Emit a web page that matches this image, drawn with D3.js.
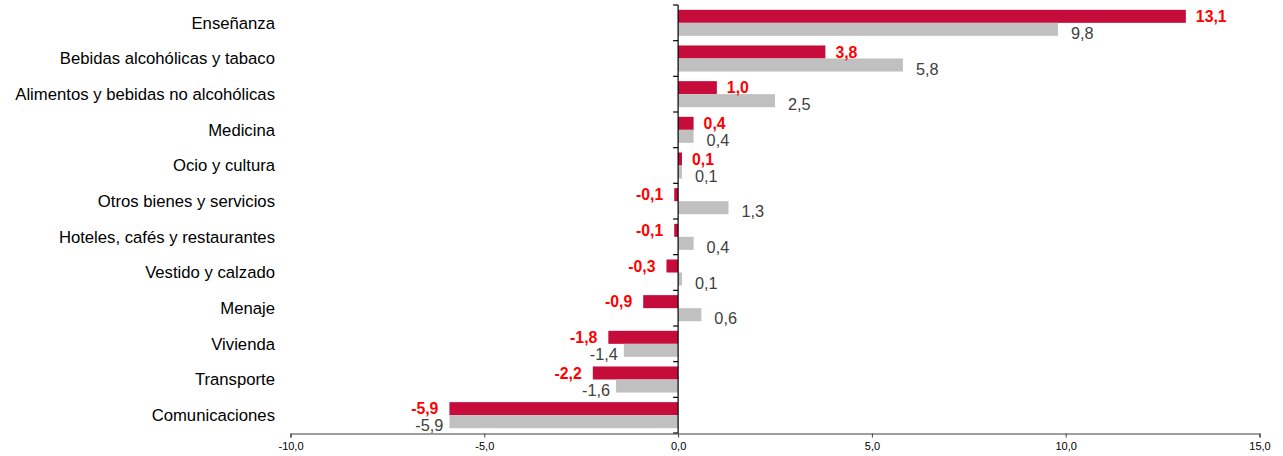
<!DOCTYPE html>
<html>
<head>
<meta charset="utf-8">
<script src="https://cdn.jsdelivr.net/npm/d3@7"></script>
<style>
  body { margin: 0; background: #fff; }
  text { font-family: "Liberation Sans", Arial, sans-serif; }
</style>
</head>
<body>
<svg id="chart" width="1283" height="456"></svg>
<script>
// categories top to bottom
var categories = ["Enseñanza", "Bebidas alcohólicas y tabaco", "Alimentos y bebidas no alcohólicas",
  "Medicina", "Ocio y cultura", "Otros bienes y servicios", "Hoteles, cafés y restaurantes",
  "Vestido y calzado", "Menaje", "Vivienda", "Transporte", "Comunicaciones"];
var current = [13.1, 3.8, 1.0, 0.4, 0.1, -0.1, -0.1, -0.3, -0.9, -1.8, -2.2, -5.9];
var previous = [9.8, 5.8, 2.5, 0.4, 0.1, 1.3, 0.4, 0.1, 0.6, -1.4, -1.6, -5.9];
var xTicks = [-10, -5, 0, 5, 10, 15];

var svg = d3.select("#chart");
var fmt = function(v) { return d3.format(".1f")(v).replace(".", ",").replace("−", "-"); };

var x = d3.scaleLinear().domain([-10, 15]).range([290.5, 1259.5]);
var y = d3.scaleBand().domain(categories).range([5, 433]).paddingInner(0).paddingOuter(0);
var sub = d3.scaleBand().domain(["cur", "prev"]).range([0, y.bandwidth()]).paddingOuter(0.37).paddingInner(0);

// bars
var rows = svg.append("g").selectAll("g.row")
    .data(categories)
  .enter().append("g")
    .attr("class", "row")
    .attr("transform", function(d) { return "translate(0," + y(d) + ")"; });

rows.append("rect")
    .attr("x", function(d, i) { return x(Math.min(0, current[i])); })
    .attr("y", sub("cur"))
    .attr("width", function(d, i) { return Math.abs(x(current[i]) - x(0)); })
    .attr("height", sub.bandwidth())
    .attr("fill", "#c60c3a");

rows.append("rect")
    .attr("x", function(d, i) { return x(Math.min(0, previous[i])); })
    .attr("y", sub("prev"))
    .attr("width", function(d, i) { return Math.abs(x(previous[i]) - x(0)); })
    .attr("height", sub.bandwidth())
    .attr("fill", "#c0c0c0");

// value labels
rows.append("text")
    .attr("x", function(d, i) { return current[i] >= 0 ? x(current[i]) + 10 : x(current[i]) - 11; })
    .attr("y", sub("cur") + sub.bandwidth() / 2)
    .attr("dy", "0.35em")
    .attr("text-anchor", function(d, i) { return current[i] >= 0 ? "start" : "end"; })
    .style("font-size", "15.8px")
    .style("font-weight", "bold")
    .attr("fill", "#ff0000")
    .text(function(d, i) { return fmt(current[i]); });

rows.append("text")
    .attr("x", function(d, i) { return previous[i] >= 0 ? x(previous[i]) + 13 : x(previous[i]) - 6; })
    .attr("y", sub("prev") + sub.bandwidth() / 2 + 4)
    .attr("dy", "0.35em")
    .attr("text-anchor", function(d, i) { return previous[i] >= 0 ? "start" : "end"; })
    .style("font-size", "16.3px")
    .attr("fill", "#404040")
    .text(function(d, i) { return fmt(previous[i]); });

// category labels
rows.append("text")
    .attr("x", 275)
    .attr("y", y.bandwidth() / 2)
    .attr("dy", "0.35em")
    .attr("text-anchor", "end")
    .style("font-size", "16.7px")
    .attr("fill", "#000")
    .text(function(d) { return d; });

// vertical axis at zero
var vAxis = svg.append("g").attr("transform", "translate(" + x(0) + ",0)");
vAxis.append("line").attr("y1", 5).attr("y2", 433).attr("stroke", "#000").attr("stroke-width", 1.2);
vAxis.selectAll("line.tick")
    .data(d3.range(categories.length + 1))
  .enter().append("line")
    .attr("class", "tick")
    .attr("x1", -5).attr("x2", 0)
    .attr("y1", function(i) { return 5 + i * y.step(); })
    .attr("y2", function(i) { return 5 + i * y.step(); })
    .attr("stroke", "#000").attr("stroke-width", 1.2);

// horizontal axis
var xAxis = d3.axisBottom(x).tickValues(xTicks).tickSize(4).tickFormat(fmt);
var gx = svg.append("g").attr("transform", "translate(0,433.5)").call(xAxis);
gx.select(".domain").attr("stroke", "#404040").attr("stroke-width", 1.2);
gx.selectAll(".tick line").attr("stroke", "#404040");
gx.selectAll(".tick text")
    .style("font-family", "Liberation Sans, Arial, sans-serif")
    .style("font-size", "11px")
    .attr("fill", "#000")
    .attr("y", 9);
</script>
</body>
</html>
